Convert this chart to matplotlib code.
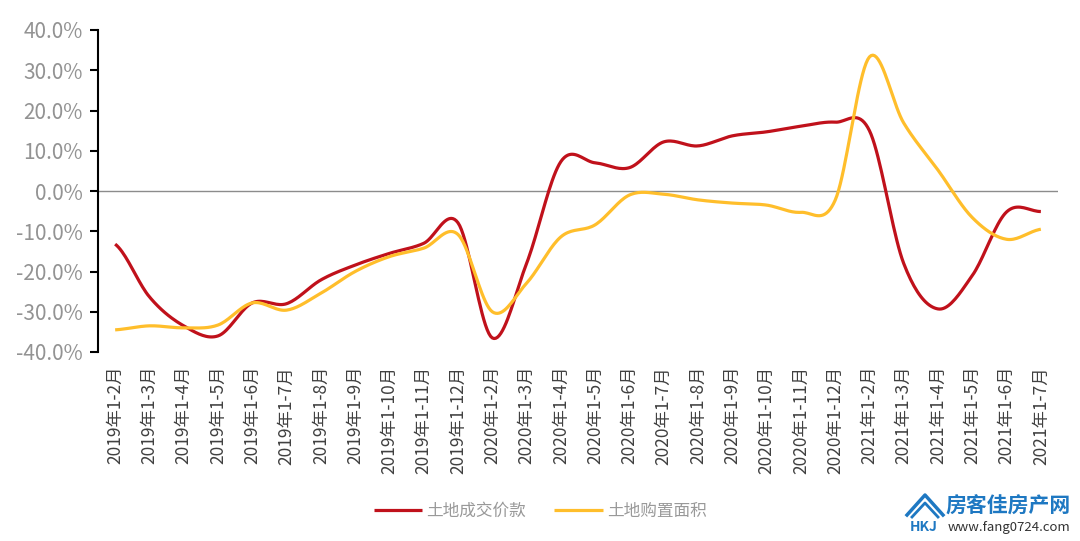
import numpy as np
import matplotlib.pyplot as plt
from matplotlib.lines import Line2D

plt.rcParams['font.family'] = ['Noto Sans CJK SC', 'DejaVu Sans']

# 月份（累计）
months = (['2019年1-%d月' % m for m in range(2, 13)] +
          ['2020年1-%d月' % m for m in range(2, 13)] +
          ['2021年1-%d月' % m for m in range(2, 8)])

# 土地成交价款 同比 (%)
price = [-13.2, -26.3, -33.5, -36.0, -27.8, -28.0, -22.1, -18.4, -15.5, -13.0, -7.9,
         -36.5, -18.0, 7.3, 7.0, 5.8, 12.2, 11.2, 13.7, 14.7, 16.1, 17.1,
         15.0, -18.0, -29.3, -21.0, -5.2, -5.1]
# 土地购置面积 同比 (%)
area = [-34.5, -33.5, -34.0, -33.3, -27.8, -29.6, -25.4, -20.0, -16.3, -14.2, -10.8,
        -30.0, -22.9, -11.4, -8.4, -1.0, -0.8, -2.2, -3.0, -3.5, -5.3, -2.3,
        33.3, 16.9, 5.2, -6.6, -12.0, -9.5]


def smooth(y, n=20):
    # 平滑曲线，类似 Excel 的“平滑线”
    y = np.asarray(y, float)
    x = np.arange(len(y), dtype=float)
    xs, ys = [], []
    for i in range(len(y) - 1):
        p0 = y[i - 1] if i > 0 else y[i]
        p3 = y[i + 2] if i + 2 < len(y) else y[i + 1]
        c1 = y[i] + (y[i + 1] - p0) / 6
        c2 = y[i + 1] - (p3 - y[i]) / 6
        t = np.linspace(0, 1, n, endpoint=False)
        xs.append(x[i] + t)
        ys.append((1 - t) ** 3 * y[i] + 3 * (1 - t) ** 2 * t * c1 +
                  3 * (1 - t) * t ** 2 * c2 + t ** 3 * y[i + 1])
    xs.append([x[-1]])
    ys.append([y[-1]])
    return np.concatenate(xs), np.concatenate(ys)


fig = plt.figure(figsize=(10.8, 5.41), dpi=100)
ax = fig.add_axes([98 / 1080, 1 - 352 / 541, 960 / 1080, 322 / 541])

xr, yr = smooth(price)
xa, ya = smooth(area)
ax.plot(xr, yr, color='#C0111B', lw=2.3, label='土地成交价款', solid_capstyle='butt')
ax.plot(xa, ya, color='#FFBE2B', lw=2.3, label='土地购置面积', solid_capstyle='butt')
ax.axhline(0, color='#8c8c8c', lw=1, zorder=0)

ax.set_xlim(-0.5, len(months) - 0.5)
ax.set_ylim(-40, 40)
ax.set_yticks(np.arange(-40, 41, 10))
ax.set_yticklabels(['%.1f%%' % v for v in np.arange(-40, 41, 10)])
ax.set_xticks(range(len(months)))
ax.set_xticklabels(months, rotation=90)

for s in ['top', 'right', 'bottom']:
    ax.spines[s].set_visible(False)
ax.spines['left'].set_linewidth(1.5)
ax.tick_params(axis='y', direction='out', length=6, width=1.5, labelsize=15,
               labelcolor='#939393', pad=5)
ax.tick_params(axis='x', length=0, labelsize=12.5, labelcolor='#404040', pad=10)

fig.legend(loc='center', bbox_to_anchor=(540 / 1080, 1 - 511 / 541), ncol=2,
           frameon=False, fontsize=12, labelcolor='#999999', handlelength=2.9,
           columnspacing=1.7, handletextpad=0.25)

# 水印
blue = '#1E78C2'
fig.text(946 / 1080, 1 - 506 / 541, '房客佳房产网', color=blue, fontsize=15,
         fontweight='bold', va='center', ha='left')
fig.text(948 / 1080, 1 - 528 / 541, 'www.fang0724.com', color='#333333', fontsize=9.5,
         va='center', ha='left')
fig.add_artist(Line2D(np.array([907, 925, 943]) / 1080, 1 - np.array([515, 495, 515]) / 541,
                      color=blue, lw=2.5))
fig.add_artist(Line2D(np.array([912, 925, 938]) / 1080, 1 - np.array([517, 503, 517]) / 541,
                      color=blue, lw=2))
fig.text(924 / 1080, 1 - 527 / 541, 'HKJ', color=blue, fontsize=10, fontweight='bold',
         ha='center', va='center')

fig.savefig('out.png', dpi=100)
